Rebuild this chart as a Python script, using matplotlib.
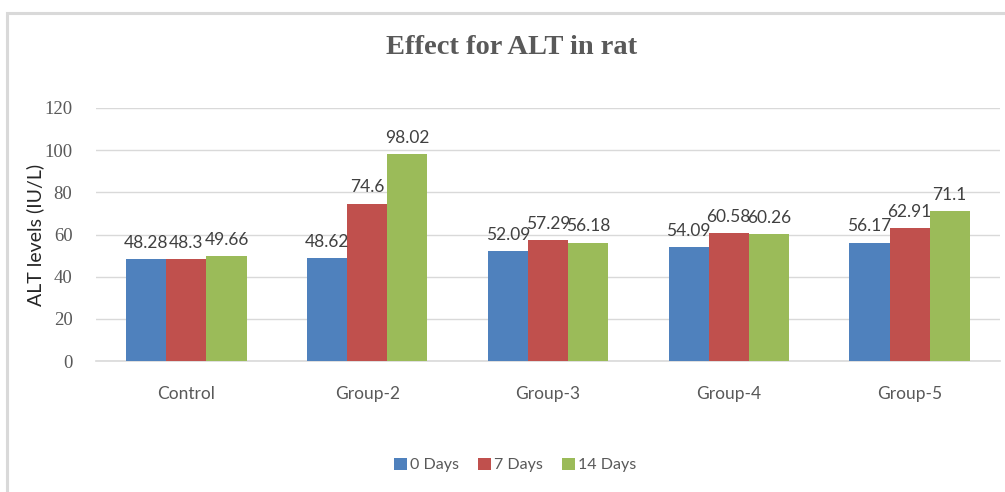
import matplotlib
matplotlib.use("Agg")

import numpy as np
import matplotlib.pyplot as plt
from matplotlib.patches import Rectangle

groups = ["Control", "Group-2", "Group-3", "Group-4", "Group-5"]
series = ["0 Days", "7 Days", "14 Days"]
day0 = [48.28, 48.62, 52.09, 54.09, 56.17]
day7 = [48.3, 74.6, 57.29, 60.58, 62.91]
day14 = [49.66, 98.02, 56.18, 60.26, 71.1]
colors = ["#4F81BD", "#C0504D", "#9BBB59"]

sans = ["Lato", "DejaVu Sans"]
serif = ["Liberation Serif", "DejaVu Serif"]

fig = plt.figure(figsize=(10.05, 4.92), dpi=100)
ax = fig.add_axes([96 / 1005, 131 / 492, 904 / 1005, 253 / 492])

# outer chart frame
fig.patches.append(Rectangle((7 / 1005, -0.05), 1.2, (492 - 13) / 492 + 0.05,
                             transform=fig.transFigure, fill=False,
                             edgecolor="#d9d9d9", linewidth=2.2))

x = np.arange(len(groups))
w = 0.222
for k, (vals, name) in enumerate(zip([day0, day7, day14], series)):
    bars = ax.bar(x + (k - 1) * w, vals, w, color=colors[k], label=name,
                  zorder=3)
    for b, v in zip(bars, vals):
        ax.annotate(f"{v:g}", (b.get_x() + b.get_width() / 2, v),
                    xytext=(0, 6), textcoords="offset points",
                    ha="center", va="bottom", fontsize=12.5,
                    color="#404040", family=sans, zorder=4)

ax.set_xlim(-0.5, len(groups) - 0.5)
ax.set_ylim(0, 120)
ax.set_yticks(range(0, 121, 20))
ax.yaxis.grid(True, color="#d9d9d9", linewidth=1)
ax.set_axisbelow(True)
for s in ["top", "right", "left"]:
    ax.spines[s].set_visible(False)
ax.spines["bottom"].set_color("#d9d9d9")
ax.spines["bottom"].set_linewidth(1.2)
ax.tick_params(axis="both", length=0)
ax.tick_params(axis="y", pad=17)
ax.tick_params(axis="x", pad=18)

ax.set_xticks(x)
ax.set_xticklabels(groups, fontsize=12.5, color="#595959", family=sans)
for t in ax.get_yticklabels():
    t.set_fontsize(13.5)
    t.set_color("#595959")
    t.set_family(serif)

ax.set_ylabel("ALT levels (IU/L)", fontsize=14, color="#262626",
              family=sans, labelpad=0)

fig.text(512 / 1005, 1 - 48 / 492, "Effect for ALT in rat", ha="center",
         va="center", fontsize=20.5, fontweight="bold", color="#595959",
         family=serif)

leg = fig.legend(loc="center", bbox_to_anchor=(515 / 1005, 1 - 465 / 492),
                 ncol=3, frameon=False, handlelength=0.8, handleheight=0.8,
                 handletextpad=0.2, columnspacing=1.2,
                 prop={"family": sans, "size": 11.5})
for t in leg.get_texts():
    t.set_color("#595959")

fig.savefig("out.png", dpi=100)
